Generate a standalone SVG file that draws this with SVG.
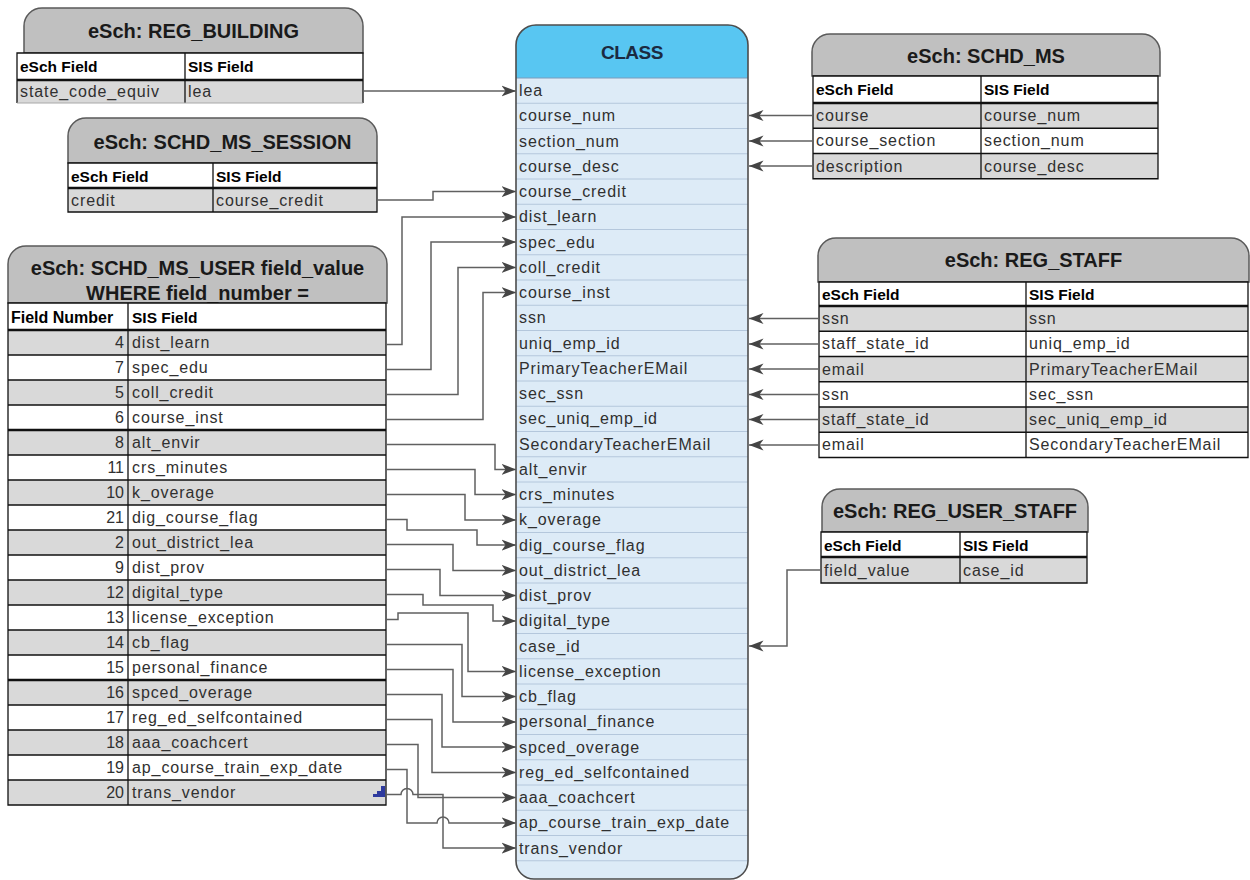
<svg xmlns="http://www.w3.org/2000/svg" width="1250" height="880" viewBox="0 0 1250 880">
<defs>
<style>
.ttl{font-family:"Liberation Sans",Arial,sans-serif;font-weight:bold;font-size:20px;fill:#1a1a1a;text-anchor:middle}
.hd{font-family:"Liberation Sans",Arial,sans-serif;font-weight:bold;font-size:15.5px;fill:#000}
.c{font-family:"Liberation Sans",Arial,sans-serif;font-size:16px;letter-spacing:0.9px;fill:#303030}
.num{font-family:"Liberation Sans",Arial,sans-serif;font-size:16px;fill:#303030;text-anchor:end}
.tshape{fill:#c0c0c0;stroke:#5a5a5a;stroke-width:1.5}
.g{fill:#d9d9d9}
.w{fill:#ffffff}
.grid{fill:none;stroke:#111;stroke-width:1.3}
.thick{fill:none;stroke:#111;stroke-width:2.6}
.conn{fill:none;stroke:#606060;stroke-width:1.5;marker-end:url(#ah)}
.sep{fill:none;stroke:#b4c7dc;stroke-width:1}
</style>
<marker id="ah" markerWidth="16" markerHeight="12" refX="14.5" refY="6" orient="auto" markerUnits="userSpaceOnUse">
<path d="M0,0.5 L14.5,6 L0,11.5 L4,6 Z" fill="#444444"/>
</marker>
</defs>
<rect x="0" y="0" width="1250" height="880" fill="#ffffff"/>

<g id="class">
<path d="M534,879 H730 A18,18 0 0 0 748,861 V45 A20,20 0 0 0 728,25 H536 A20,20 0 0 0 516,45 V861 A18,18 0 0 0 534,879 Z" fill="#ddebf7"/>
<path d="M516,78 V45 A20,20 0 0 1 536,25 H728 A20,20 0 0 1 748,45 V78 Z" fill="#58c6f2"/>
<path class="sep" d="M516,103.25H748M516,128.5H748M516,153.75H748M516,179H748M516,204.25H748M516,229.5H748M516,254.75H748M516,280H748M516,305.25H748M516,330.5H748M516,355.75H748M516,381H748M516,406.25H748M516,431.5H748M516,456.75H748M516,482H748M516,507.25H748M516,532.5H748M516,557.75H748M516,583H748M516,608.25H748M516,633.5H748M516,658.75H748M516,684H748M516,709.25H748M516,734.5H748M516,759.75H748M516,785H748M516,810.25H748M516,835.5H748M516,860.75H748"/>
<line x1="516" y1="78" x2="748" y2="78" stroke="#7a9cbc" stroke-width="1.2"/>
<path d="M534,879 H730 A18,18 0 0 0 748,861 V45 A20,20 0 0 0 728,25 H536 A20,20 0 0 0 516,45 V861 A18,18 0 0 0 534,879 Z" fill="none" stroke="#4d4d4d" stroke-width="1.6"/>
<text x="632" y="59" style="font-family:'Liberation Sans',Arial,sans-serif;font-weight:bold;font-size:19px;letter-spacing:-0.5px;fill:#1b2a41;text-anchor:middle">CLASS</text>
<text class="c" x="519" y="96">lea</text>
<text class="c" x="519" y="121.25">course_num</text>
<text class="c" x="519" y="146.5">section_num</text>
<text class="c" x="519" y="171.75">course_desc</text>
<text class="c" x="519" y="197">course_credit</text>
<text class="c" x="519" y="222.25">dist_learn</text>
<text class="c" x="519" y="247.5">spec_edu</text>
<text class="c" x="519" y="272.75">coll_credit</text>
<text class="c" x="519" y="298">course_inst</text>
<text class="c" x="519" y="323.25">ssn</text>
<text class="c" x="519" y="348.5">uniq_emp_id</text>
<text class="c" x="519" y="373.75">PrimaryTeacherEMail</text>
<text class="c" x="519" y="399">sec_ssn</text>
<text class="c" x="519" y="424.25">sec_uniq_emp_id</text>
<text class="c" x="519" y="449.5">SecondaryTeacherEMail</text>
<text class="c" x="519" y="474.75">alt_envir</text>
<text class="c" x="519" y="500">crs_minutes</text>
<text class="c" x="519" y="525.25">k_overage</text>
<text class="c" x="519" y="550.5">dig_course_flag</text>
<text class="c" x="519" y="575.75">out_district_lea</text>
<text class="c" x="519" y="601">dist_prov</text>
<text class="c" x="519" y="626.25">digital_type</text>
<text class="c" x="519" y="651.5">case_id</text>
<text class="c" x="519" y="676.75">license_exception</text>
<text class="c" x="519" y="702">cb_flag</text>
<text class="c" x="519" y="727.25">personal_finance</text>
<text class="c" x="519" y="752.5">spced_overage</text>
<text class="c" x="519" y="777.75">reg_ed_selfcontained</text>
<text class="c" x="519" y="803">aaa_coachcert</text>
<text class="c" x="519" y="828.25">ap_course_train_exp_date</text>
<text class="c" x="519" y="853.5">trans_vendor</text>
</g>

<g id="reg_building">
<path class="tshape" d="M24,53 V26 A18,18 0 0 1 42,8 H345 A18,18 0 0 1 363,26 V53 Z"/>
<text class="ttl" x="193.5" y="37.5">eSch: REG_BUILDING</text>
<rect class="w" x="17" y="53" width="346" height="27"/>
<rect class="g" x="17" y="80" width="346" height="23"/>
<path class="grid" d="M17,103 V53 H363 V103 M185,53 V103"/>
<line x1="17" y1="103" x2="363" y2="103" stroke="#a8a8a8" stroke-width="1"/>
<line class="thick" x1="17" y1="80" x2="363" y2="80"/>
<text class="hd" x="20" y="72">eSch Field</text>
<text class="hd" x="188" y="72">SIS Field</text>
<text class="c" x="20" y="97">state_code_equiv</text>
<text class="c" x="188" y="97">lea</text>
</g>

<g id="schd_ms_session">
<path class="tshape" d="M68,163 V136 A18,18 0 0 1 86,118 H359 A18,18 0 0 1 377,136 V163 Z"/>
<text class="ttl" x="222.5" y="148.5">eSch: SCHD_MS_SESSION</text>
<rect class="w" x="68" y="163" width="309" height="25"/>
<rect class="g" x="68" y="188" width="309" height="24"/>
<path class="grid" d="M68,163 H377 V212 H68 Z M213,163 V212"/>
<line class="thick" x1="68" y1="188" x2="377" y2="188"/>
<text class="hd" x="71" y="182">eSch Field</text>
<text class="hd" x="216" y="182">SIS Field</text>
<text class="c" x="71" y="206">credit</text>
<text class="c" x="216" y="206">course_credit</text>
</g>

<g id="schd_ms">
<path class="tshape" d="M812,76 V52 A18,18 0 0 1 830,34 H1142 A18,18 0 0 1 1160,52 V76 Z"/>
<text class="ttl" x="986" y="63">eSch: SCHD_MS</text>
<rect class="w" x="813" y="76" width="345" height="27"/>
<rect class="g" x="813" y="103" width="345" height="25.25"/>
<rect class="w" x="813" y="128.25" width="345" height="25.25"/>
<rect class="g" x="813" y="153.5" width="345" height="25.25"/>
<path class="grid" d="M813,76 H1158 V178.75 H813 Z M981,76 V178.75 M813,128.25 H1158 M813,153.5 H1158"/>
<line class="thick" x1="813" y1="103" x2="1158" y2="103"/>
<text class="hd" x="816" y="95">eSch Field</text>
<text class="hd" x="984" y="95">SIS Field</text>
<text class="c" x="816" y="121">course</text>
<text class="c" x="984" y="121">course_num</text>
<text class="c" x="816" y="146.25">course_section</text>
<text class="c" x="984" y="146.25">section_num</text>
<text class="c" x="816" y="171.5">description</text>
<text class="c" x="984" y="171.5">course_desc</text>
</g>

<g id="reg_staff">
<path class="tshape" d="M818,282 V256 A18,18 0 0 1 836,238 H1231 A18,18 0 0 1 1249,256 V282 Z"/>
<text class="ttl" x="1033.5" y="266.5">eSch: REG_STAFF</text>
<rect class="w" x="819" y="282" width="429" height="24"/>
<rect class="g" x="819" y="306" width="429" height="25.25"/>
<rect class="w" x="819" y="331.25" width="429" height="25.25"/>
<rect class="g" x="819" y="356.5" width="429" height="25.25"/>
<rect class="w" x="819" y="381.75" width="429" height="25.25"/>
<rect class="g" x="819" y="407" width="429" height="25.25"/>
<rect class="w" x="819" y="432.25" width="429" height="25.25"/>
<path class="grid" d="M819,282 H1248 V457.5 H819 Z M1026,282 V457.5 M819,331.25 H1248 M819,356.5 H1248 M819,381.75 H1248 M819,407 H1248 M819,432.25 H1248"/>
<line class="thick" x1="819" y1="306" x2="1248" y2="306"/>
<text class="hd" x="822" y="300">eSch Field</text>
<text class="hd" x="1029" y="300">SIS Field</text>
<text class="c" x="822" y="324">ssn</text>
<text class="c" x="1029" y="324">ssn</text>
<text class="c" x="822" y="349.25">staff_state_id</text>
<text class="c" x="1029" y="349.25">uniq_emp_id</text>
<text class="c" x="822" y="374.5">email</text>
<text class="c" x="1029" y="374.5">PrimaryTeacherEMail</text>
<text class="c" x="822" y="399.75">ssn</text>
<text class="c" x="1029" y="399.75">sec_ssn</text>
<text class="c" x="822" y="425">staff_state_id</text>
<text class="c" x="1029" y="425">sec_uniq_emp_id</text>
<text class="c" x="822" y="450.25">email</text>
<text class="c" x="1029" y="450.25">SecondaryTeacherEMail</text>
</g>

<g id="reg_user_staff">
<path class="tshape" d="M822,532 V507 A18,18 0 0 1 840,489 H1070 A18,18 0 0 1 1088,507 V532 Z"/>
<text class="ttl" x="955" y="518">eSch: REG_USER_STAFF</text>
<rect class="w" x="821" y="532" width="266" height="25"/>
<rect class="g" x="821" y="557" width="266" height="26"/>
<path class="grid" d="M821,532 H1087 V583 H821 Z M960,532 V583"/>
<line class="thick" x1="821" y1="557" x2="1087" y2="557"/>
<text class="hd" x="824" y="551">eSch Field</text>
<text class="hd" x="963" y="551">SIS Field</text>
<text class="c" x="824" y="576">field_value</text>
<text class="c" x="963" y="576">case_id</text>
</g>

<g id="schd_ms_user">
<path class="tshape" d="M8,303 V264 A18,18 0 0 1 26,246 H369 A18,18 0 0 1 387,264 V303 Z"/>
<text class="ttl" x="197.5" y="275">eSch: SCHD_MS_USER field_value</text>
<text class="ttl" x="197.5" y="300">WHERE field_number =</text>
<rect class="w" x="8" y="303" width="378" height="27"/>
<rect class="g" x="8" y="330" width="378" height="25"/>
<rect class="w" x="8" y="355" width="378" height="25"/>
<rect class="g" x="8" y="380" width="378" height="25"/>
<rect class="w" x="8" y="405" width="378" height="25"/>
<rect class="g" x="8" y="430" width="378" height="25"/>
<rect class="w" x="8" y="455" width="378" height="25"/>
<rect class="g" x="8" y="480" width="378" height="25"/>
<rect class="w" x="8" y="505" width="378" height="25"/>
<rect class="g" x="8" y="530" width="378" height="25"/>
<rect class="w" x="8" y="555" width="378" height="25"/>
<rect class="g" x="8" y="580" width="378" height="25"/>
<rect class="w" x="8" y="605" width="378" height="25"/>
<rect class="g" x="8" y="630" width="378" height="25"/>
<rect class="w" x="8" y="655" width="378" height="25"/>
<rect class="g" x="8" y="680" width="378" height="25"/>
<rect class="w" x="8" y="705" width="378" height="25"/>
<rect class="g" x="8" y="730" width="378" height="25"/>
<rect class="w" x="8" y="755" width="378" height="25"/>
<rect class="g" x="8" y="780" width="378" height="25"/>
<path class="grid" d="M8,303 H386 V805 H8 Z M128,303 V805 M8,355H386M8,380H386M8,405H386M8,455H386M8,480H386M8,505H386M8,530H386M8,555H386M8,580H386M8,605H386M8,630H386M8,655H386M8,705H386M8,730H386M8,755H386M8,780H386"/>
<path class="thick" d="M8,330H386M8,430H386M8,680H386"/>
<path d="M385,786 V797 H373 V794 H377 V791 H381 V786 Z" fill="#2e3a9e"/>
<text class="hd" x="11" y="323" style="font-size:16px">Field Number</text>
<text class="hd" x="132" y="323">SIS Field</text>
<text class="num" x="124" y="348">4</text><text class="c" x="132" y="348">dist_learn</text>
<text class="num" x="124" y="373">7</text><text class="c" x="132" y="373">spec_edu</text>
<text class="num" x="124" y="398">5</text><text class="c" x="132" y="398">coll_credit</text>
<text class="num" x="124" y="423">6</text><text class="c" x="132" y="423">course_inst</text>
<text class="num" x="124" y="448">8</text><text class="c" x="132" y="448">alt_envir</text>
<text class="num" x="124" y="473">11</text><text class="c" x="132" y="473">crs_minutes</text>
<text class="num" x="124" y="498">10</text><text class="c" x="132" y="498">k_overage</text>
<text class="num" x="124" y="523">21</text><text class="c" x="132" y="523">dig_course_flag</text>
<text class="num" x="124" y="548">2</text><text class="c" x="132" y="548">out_district_lea</text>
<text class="num" x="124" y="573">9</text><text class="c" x="132" y="573">dist_prov</text>
<text class="num" x="124" y="598">12</text><text class="c" x="132" y="598">digital_type</text>
<text class="num" x="124" y="623">13</text><text class="c" x="132" y="623">license_exception</text>
<text class="num" x="124" y="648">14</text><text class="c" x="132" y="648">cb_flag</text>
<text class="num" x="124" y="673">15</text><text class="c" x="132" y="673">personal_finance</text>
<text class="num" x="124" y="698">16</text><text class="c" x="132" y="698">spced_overage</text>
<text class="num" x="124" y="723">17</text><text class="c" x="132" y="723">reg_ed_selfcontained</text>
<text class="num" x="124" y="748">18</text><text class="c" x="132" y="748">aaa_coachcert</text>
<text class="num" x="124" y="773">19</text><text class="c" x="132" y="773">ap_course_train_exp_date</text>
<text class="num" x="124" y="798">20</text><text class="c" x="132" y="798">trans_vendor</text>
</g>

<g id="connectors">
<path class="conn" d="M363,91 H516"/>
<path class="conn" d="M377,200 H433 V191.6 H516"/>
<path class="conn" d="M386,344.5 H402 V216.9 H516"/>
<path class="conn" d="M386,369.5 H431 V242.1 H516"/>
<path class="conn" d="M386,394.5 H458 V267.4 H516"/>
<path class="conn" d="M386,419.5 H483 V292.6 H516"/>
<path class="conn" d="M386,444.5 H495 V469.4 H516"/>
<path class="conn" d="M386,469.5 H475 V494.6 H516"/>
<path class="conn" d="M386,494.5 H465 V519.9 H516"/>
<path class="conn" d="M386,519.5 H407 V530 H477 V545.1 H516"/>
<path class="conn" d="M386,544.5 H453 V570.4 H516"/>
<path class="conn" d="M386,569.5 H440 V595.6 H516"/>
<path class="conn" d="M386,594.5 H423 V605 H493 V620.9 H516"/>
<path class="conn" d="M386,619.5 H398 V613 H468 V671.4 H516"/>
<path class="conn" d="M386,644.5 H462 V696.6 H516"/>
<path class="conn" d="M386,669.5 H453 V721.9 H516"/>
<path class="conn" d="M386,694.5 H442 V747.1 H516"/>
<path class="conn" d="M386,719.5 H432 V772.4 H516"/>
<path class="conn" d="M386,744.5 H418 V797.6 H516"/>
<path class="conn" d="M386,769.5 H407 V822.9 H437 A6,6 0 0 1 449,822.9 H516"/>
<path class="conn" d="M386,794.5 H401 A6,6 0 0 1 413,794.5 H443 V848.1 H516"/>
<path class="conn" d="M813,115.6 H749"/>
<path class="conn" d="M813,140.9 H749"/>
<path class="conn" d="M813,166.1 H749"/>
<path class="conn" d="M819,318.6 H749"/>
<path class="conn" d="M819,343.9 H749"/>
<path class="conn" d="M819,369.1 H749"/>
<path class="conn" d="M819,394.4 H749"/>
<path class="conn" d="M819,419.6 H749"/>
<path class="conn" d="M819,444.9 H749"/>
<path class="conn" d="M821,570 H787 V646.1 H749"/>
</g>
</svg>
